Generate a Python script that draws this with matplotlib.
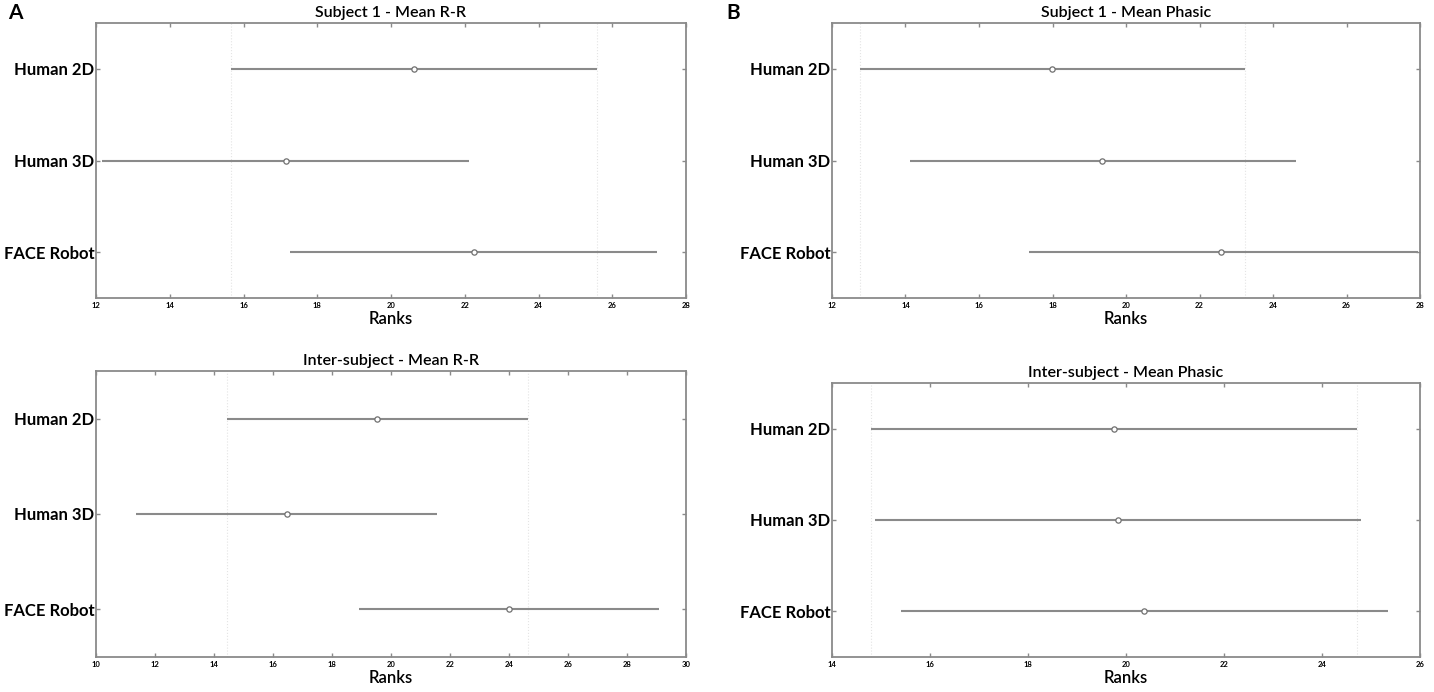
import numpy as np
import matplotlib
matplotlib.use('Agg')
import matplotlib.pyplot as plt

plt.rcParams['font.family'] = ['Lato', 'DejaVu Sans']

GROUPS = ["Human 2D", "Human 3D", "FACE Robot"]

# mean ranks and comparison interval bounds
RR_S1_MEAN  = [20.62, 17.15, 22.24]
RR_S1_LO    = [15.66, 12.15, 17.27]
RR_S1_HI    = [25.58, 22.12, 27.22]

RR_IS_MEAN  = [19.54, 16.46, 23.99]
RR_IS_LO    = [14.44, 11.37, 18.92]
RR_IS_HI    = [24.64, 21.56, 29.10]

PH_S1_MEAN  = [17.99, 19.36, 22.58]
PH_S1_LO    = [12.76, 14.12, 17.37]
PH_S1_HI    = [23.23, 24.62, 27.95]

PH_IS_MEAN  = [19.75, 19.83, 20.37]
PH_IS_LO    = [14.80, 14.88, 15.40]
PH_IS_HI    = [24.72, 24.80, 25.34]

PANELS = [
    # title, mean, lo, hi, xlim, xticks, axes rect in pixels (l, t, r, b)
    ("Subject 1 - Mean R-R", RR_S1_MEAN, RR_S1_LO, RR_S1_HI, (12, 28), np.arange(12, 29, 2), (96, 23, 686, 298)),
    ("Inter-subject - Mean R-R", RR_IS_MEAN, RR_IS_LO, RR_IS_HI, (10, 30), np.arange(10, 31, 2), (96, 371, 686, 657)),
    ("Subject 1 - Mean Phasic", PH_S1_MEAN, PH_S1_LO, PH_S1_HI, (12, 28), np.arange(12, 29, 2), (832, 23, 1420, 298)),
    ("Inter-subject - Mean Phasic", PH_IS_MEAN, PH_IS_LO, PH_IS_HI, (14, 26), np.arange(14, 27, 2), (832, 383, 1420, 657)),
]

W, H = 1434, 692
GREY = "#8a8a8a"

fig = plt.figure(figsize=(W / 100, H / 100), dpi=100)

for title, mean, lo, hi, xlim, xticks, (l, t, r, b) in PANELS:
    ax = fig.add_axes([l / W, 1 - b / H, (r - l) / W, (b - t) / H])
    ypos = np.arange(1, len(GROUPS) + 1)
    # reference lines at the first group's interval bounds
    for xv in (lo[0], hi[0]):
        ax.axvline(xv, color="#e4e4e4", lw=0.8, ls=":", zorder=0)
    for y, m, a, c in zip(ypos, mean, lo, hi):
        ax.plot([a, c], [y, y], color=GREY, lw=1.5, solid_capstyle="butt", zorder=2)
        ax.plot(m, y, "o", ms=3.8, mfc="white", mec="#707070", mew=0.9, zorder=3)
    ax.set_xlim(*xlim)
    ax.set_ylim(3.5, 0.5)
    ax.set_xticks(xticks)
    ax.set_xticklabels([str(v) for v in xticks], fontsize=5.5, fontweight="bold")
    ax.set_yticks(ypos)
    ax.set_yticklabels(GROUPS, fontsize=12, fontweight="bold")
    ax.tick_params(axis="both", direction="in", top=True, right=True,
                   length=3, width=1, color=GREY, pad=3)
    ax.tick_params(axis="y", pad=1)
    for sp in ax.spines.values():
        sp.set_color(GREY)
        sp.set_linewidth(1.3)
    ax.set_title(title, fontsize=11.5, fontweight="semibold", pad=4)
    ax.set_xlabel("Ranks", fontsize=12, fontweight="semibold", labelpad=1)

fig.text(8 / W, 1 - 13 / H, "A", fontsize=15, fontweight="bold", va="center", ha="left")
fig.text(726 / W, 1 - 13 / H, "B", fontsize=15, fontweight="bold", va="center", ha="left")

fig.savefig("out.png", dpi=100, facecolor="white")
